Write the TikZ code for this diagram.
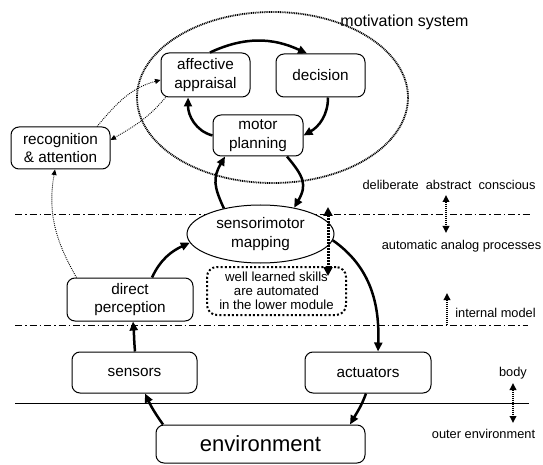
\documentclass[tikz,border=0pt]{standalone}
\usepackage{fontspec}
\setmainfont{Liberation Sans}
\usetikzlibrary{shapes.geometric,arrows.meta,calc}
\newcommand\boxfnt{\fontsize{15.3}{18.5}\selectfont}
\newcommand\lblfnt{\fontsize{12.8}{14}\selectfont}
\newcommand\wellfnt{\fontsize{13.2}{14}\selectfont}
\newcommand\envfnt{\fontsize{22}{24}\selectfont}
\newcommand\motfnt{\fontsize{16}{18}\selectfont}
\begin{document}
\begin{tikzpicture}[x=1pt,y=1pt,
  box/.style={draw, line width=1pt, rounded corners=8pt, align=center, inner sep=0pt, font=\boxfnt, fill=white},
  thk/.style={line width=2.5pt, -{Triangle[length=9pt,width=8pt]}},
  thn/.style={line width=0.9pt, dash pattern=on 0.9pt off 1.1pt, -{Triangle[length=5.5pt,width=5pt]}},
  ddot/.style={line width=1pt, dash pattern=on 7pt off 3pt on 1.5pt off 3pt},
  lblarr/.style={line width=2pt, dash pattern=on 1pt off 1pt, {Triangle[length=7pt,width=6.5pt]}-{Triangle[length=7pt,width=6.5pt]}},
  lblup/.style={line width=2pt, dash pattern=on 1pt off 1pt, -{Triangle[length=7pt,width=6.5pt]}},
  lbl/.style={font=\lblfnt, inner sep=0pt}
]
\useasboundingbox (0,0) rectangle (543,464);

% layer lines
\coordinate (uL) at (15,249); \coordinate (uR) at (530,249);
\coordinate (lL) at (15,139); \coordinate (lR) at (528,139);
\coordinate (sL) at (15,61);  \coordinate (sR) at (529,61);
\draw[ddot] (uL) -- (uR);
\draw[ddot] (lL) -- (lR);
\draw[line width=1pt] (sL) -- (sR);

% motivation system
\node[draw, ellipse, minimum width=271pt, minimum height=171pt, line width=1.8pt, dash pattern=on 1pt off 0.8pt] (ms) at (272.5,366.5) {};
\node[font=\motfnt, inner sep=0pt] (mstxt) at (404.5,442) {motivation system};

% boxes
\node[box, minimum width=89pt, minimum height=44pt] (aff) at (205.5,389) {affective\\appraisal};
\node[box, minimum width=89pt, minimum height=43pt] (dec) at (320.5,388.5) {decision};
\node[box, minimum width=90pt, minimum height=41pt] (mot) at (258,328.5) {motor\\planning};
\node[box, minimum width=99pt, minimum height=42pt] (rec) at (60.5,316) {recognition\\\&\ attention};
\node[draw, ellipse, line width=1pt, fill=white, inner sep=0pt, minimum width=147pt, minimum height=58pt, align=center, font=\boxfnt] (sm) at (260.5,230) {sensorimotor\\mapping};
\node[draw, rounded corners=10pt, line width=2pt, dash pattern=on 2pt off 2.2pt, minimum width=139pt, minimum height=48pt, inner sep=0pt, align=center, font=\wellfnt] (well) at (276.5,173) {well learned skills\\are automated\\in the lower module};
\node[box, minimum width=126pt, minimum height=43pt] (dp) at (130,164.5) {direct\\perception};
\node[box, minimum width=125pt, minimum height=41pt] (sens) at (134.5,91.5) {sensors};
\node[box, minimum width=126pt, minimum height=41pt] (act) at (368,91.5) {actuators};
\node[box, minimum width=209pt, minimum height=38pt, font=\envfnt] (env) at (260.5,20) {environment};

% labels
\node[lbl] (t1) at (449,279) {deliberate~~abstract~~conscious};
\node[lbl] (t2) at (461.5,218) {automatic analog processes};
\node[lbl] (t3) at (495.5,151) {internal model};
\node[lbl] (t4) at (513,91) {body};
\node[lbl] (t5) at (483.5,30) {outer environment};

\coordinate (a1t) at (446,269); \coordinate (a1b) at (446,231);
\coordinate (a2b) at (447,139); \coordinate (a2t) at (447,171);
\coordinate (a3t) at (513,81);  \coordinate (a3b) at (513,41);
\draw[lblarr] (a1t) -- (a1b);
\draw[lblup] (a2b) -- (a2t);
\draw[lblarr] (a3t) -- (a3b);

\coordinate (wt) at (328,257); \coordinate (wb) at (328,188);
\draw[line width=3pt, dash pattern=on 1.5pt off 1.5pt, {Triangle[length=9pt,width=9pt]}-{Triangle[length=9pt,width=9pt]}] (wt) -- (wb);

% motivation cycle
\draw[thk] ([xshift=4.5pt]aff.north) to[out=25,in=155] ([xshift=-13.5pt]dec.north);
\draw[thk] ([xshift=7.5pt]dec.south) to[out=-90,in=30] (mot.east);
\draw[thk] (mot.west) to[out=165,in=-90] ([xshift=-17.5pt]aff.south);

% sensorimotor links
\draw[thk] (sm.145) to[out=115,in=-120,looseness=1.2] ([xshift=-33pt]mot.south);
\draw[thk] ([xshift=29pt]mot.south) to[out=-50,in=60,looseness=1.3] (sm.38);
\draw[thk] ([xshift=22pt]dp.north) to[out=65,in=-155] (sm.187);
\draw[thk] (sm.355) to[out=-35,in=88] ([xshift=10pt]act.north);

% body
\draw[thk] ([xshift=0.5pt]sens.north) to[out=95,in=-85] ([xshift=3pt]dp.south);
\draw[thk] ([xshift=-97.5pt]env.north) to[out=125,in=-65] ([xshift=10.5pt]sens.south);
\draw[thk] ([xshift=-2pt]act.south) to[out=-110,in=60] ([xshift=89.5pt]env.north);

% dotted attention links
\draw[thn] ([xshift=10pt]dp.north west) to[out=120,in=-100] ([xshift=-5.5pt]rec.south);
\draw[thn] ([xshift=36.5pt]rec.north) to[out=50,in=195] ([yshift=-5pt]aff.west);
\draw[thn] ([xshift=5pt]aff.south west) to[out=-130,in=30] ([yshift=8pt]rec.east);
\end{tikzpicture}
\end{document}
